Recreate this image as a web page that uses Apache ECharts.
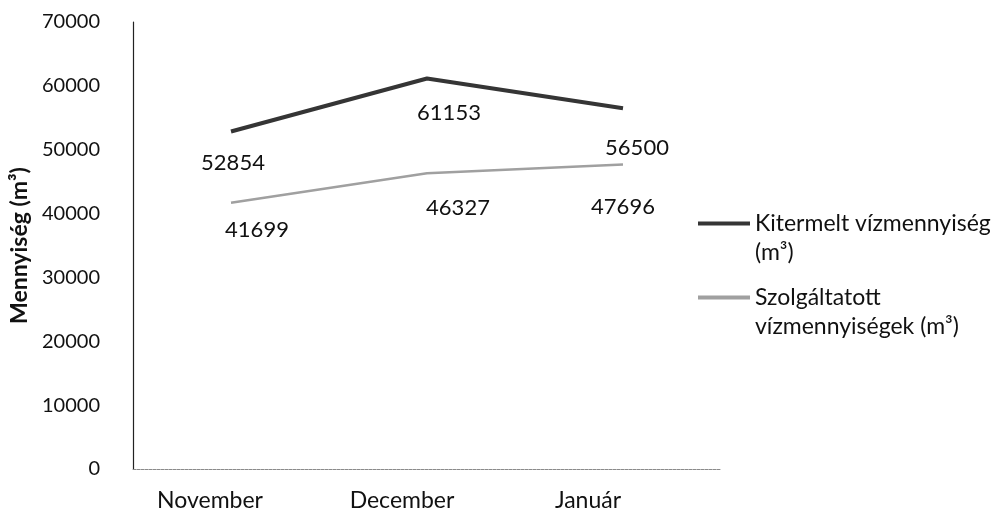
<!DOCTYPE html>
<html>
<head>
<meta charset="utf-8">
<script src="https://cdn.jsdelivr.net/npm/echarts@6/dist/echarts.min.js"></script>
<style>
  html, body { margin: 0; padding: 0; background: #ffffff; }
  #chart { width: 999px; height: 519px; }
</style>
</head>
<body>
<div id="chart"></div>
<script>
// Monthly water volumes (m³)
const months = ['November', 'December', 'Január'];
const extracted = [52854, 61153, 56500];   // Kitermelt vízmennyiség
const supplied = [41699, 46327, 47696];    // Szolgáltatott vízmennyiségek
const seriesNames = ['Kitermelt vízmennyiség (m³)', 'Szolgáltatott vízmennyiségek (m³)'];
const legendLines = {
  'Kitermelt vízmennyiség (m³)': '\nKitermelt vízmennyiség\n(m³)',
  'Szolgáltatott vízmennyiségek (m³)': '\nSzolgáltatott\nvízmennyiségek (m³)'
};

// Value label placement around each point [dx, dy]
const extractedLabelOffsets = [[2, 31], [22, 34], [14, 40]];
const suppliedLabelOffsets = [[26, 27], [31, 35], [0, 42]];
// Leftward nudge of each month label (px)
const monthLabelShift = [21, 25, 35];

const FONT = 'Lato';

function withLabels(values, offsets) {
  return values.map((v, i) => ({
    value: v,
    label: { offset: offsets[i] }
  }));
}

const monthRich = {};
monthLabelShift.forEach((s, i) => {
  monthRich['m' + i] = {
    fontFamily: FONT, fontSize: 23, color: '#111',
    padding: [0, s * 2, 0, 0]
  };
});

const chart = echarts.init(document.getElementById('chart'), null, { renderer: 'canvas' });

chart.setOption({
  backgroundColor: '#ffffff',
  animation: false,
  textStyle: { fontFamily: FONT },
  grid: {
    left: 133, right: 278, top: 22, bottom: 50,
    containLabel: false, outerBoundsMode: 'none'
  },
  legend: {
    orient: 'vertical',
    left: 693,
    top: 175,
    itemGap: -13,
    itemWidth: 52,
    itemHeight: 4,
    icon: 'rect',
    data: seriesNames,
    formatter: name => legendLines[name],
    textStyle: { fontFamily: FONT, fontSize: 23, color: '#111', lineHeight: 29 }
  },
  xAxis: {
    type: 'category',
    data: months,
    boundaryGap: true,
    axisLine: { lineStyle: { color: '#8a8a8a', width: 1, type: [3, 1] } },
    axisTick: { show: false },
    splitLine: { show: false },
    axisLabel: {
      margin: 20,
      formatter: (v, i) => '{m' + i + '|' + v + '}',
      rich: monthRich
    }
  },
  yAxis: {
    type: 'value',
    min: 0,
    max: 70000,
    interval: 10000,
    name: 'Mennyiség (m³)',
    nameLocation: 'middle',
    nameGap: 100,
    nameRotate: 90,
    nameTextStyle: { fontFamily: FONT, fontSize: 23, fontWeight: 'bold', color: '#111' },
    axisLine: { show: true, lineStyle: { color: '#222', width: 1.2 } },
    axisTick: { show: false },
    splitLine: { show: false },
    axisLabel: {
      fontFamily: FONT, fontSize: 20, color: '#111', margin: 33,
      formatter: v => String(v)
    }
  },
  series: [
    {
      name: seriesNames[0],
      type: 'line',
      data: withLabels(extracted, extractedLabelOffsets),
      symbol: 'circle',
      symbolSize: 0.1,
      lineStyle: { color: '#353535', width: 4 },
      itemStyle: { color: '#353535' },
      label: {
        show: true, position: 'inside',
        fontFamily: FONT, fontSize: 22, color: '#111'
      }
    },
    {
      name: seriesNames[1],
      type: 'line',
      data: withLabels(supplied, suppliedLabelOffsets),
      symbol: 'circle',
      symbolSize: 0.1,
      lineStyle: { color: '#a0a0a0', width: 2.5 },
      itemStyle: { color: '#a0a0a0' },
      label: {
        show: true, position: 'inside',
        fontFamily: FONT, fontSize: 22, color: '#111'
      }
    }
  ]
});
</script>
</body>
</html>
